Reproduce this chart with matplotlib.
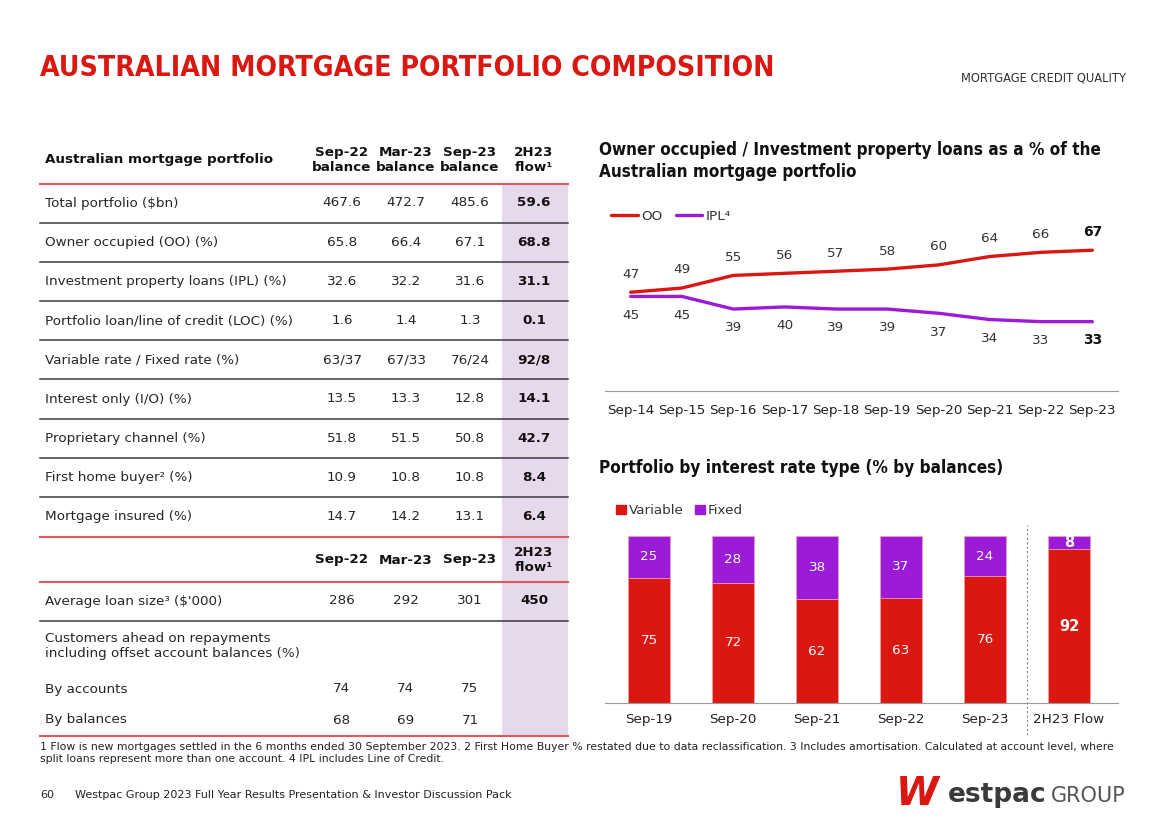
import matplotlib
matplotlib.use("Agg")
import matplotlib.pyplot as plt
from matplotlib.patches import Rectangle, Patch
from matplotlib.lines import Line2D

plt.rcParams['font.family'] = ['DejaVu Sans']
TITLE_FONT = ['DejaVu Sans']

RED = '#da1710'
PURPLE = '#9b1bd8'
TXT = '#262626'
HDR_LINE = '#e0585e'
SHADE = '#e6d9eb'

# ---- table data ----
col_heads = ['Sep-22\nbalance', 'Mar-23\nbalance', 'Sep-23\nbalance', '2H23\nflow¹']
row_labels = ['Total portfolio ($bn)', 'Owner occupied (OO) (%)',
              'Investment property loans (IPL) (%)',
              'Portfolio loan/line of credit (LOC) (%)',
              'Variable rate / Fixed rate (%)', 'Interest only (I/O) (%)',
              'Proprietary channel (%)', 'First home buyer² (%)',
              'Mortgage insured (%)']
sep22 = ['467.6', '65.8', '32.6', '1.6', '63/37', '13.5', '51.8', '10.9', '14.7']
mar23 = ['472.7', '66.4', '32.2', '1.4', '67/33', '13.3', '51.5', '10.8', '14.2']
sep23 = ['485.6', '67.1', '31.6', '1.3', '76/24', '12.8', '50.8', '10.8', '13.1']
flow = ['59.6', '68.8', '31.1', '0.1', '92/8', '14.1', '42.7', '8.4', '6.4']

col_heads2 = ['Sep-22', 'Mar-23', 'Sep-23', '2H23\nflow¹']
loan_label = 'Average loan size³ ($\'000)'
loan_vals = ['286', '292', '301', '450']
ahead_label = 'Customers ahead on repayments\nincluding offset account balances (%)'
ahead_rows = ['By accounts', 'By balances']
ahead_vals = [['74', '74', '75'], ['68', '69', '71']]

# ---- line chart data ----
years = ['Sep-14', 'Sep-15', 'Sep-16', 'Sep-17', 'Sep-18',
         'Sep-19', 'Sep-20', 'Sep-21', 'Sep-22', 'Sep-23']
oo = [47, 49, 55, 56, 57, 58, 60, 64, 66, 67]
ipl = [45, 45, 39, 40, 39, 39, 37, 34, 33, 33]

# ---- bar chart data ----
periods = ['Sep-19', 'Sep-20', 'Sep-21', 'Sep-22', 'Sep-23', '2H23 Flow']
variable = [75, 72, 62, 63, 76, 92]
fixed = [25, 28, 38, 37, 24, 8]

W, H = 1168, 825
fig = plt.figure(figsize=(W / 100, H / 100), dpi=100)
bg = fig.add_axes([0, 0, 1, 1])
bg.set_xlim(0, W)
bg.set_ylim(H, 0)
bg.axis('off')


def fit_width(t, width):
    # shrink a heading so that it spans the same width as in the slide
    r = fig.canvas.get_renderer()
    bb = t.get_window_extent(r)
    t.set_fontsize(t.get_fontsize() * width / bb.width)


# titles
title = bg.text(40, 68, 'AUSTRALIAN MORTGAGE PORTFOLIO COMPOSITION', color=RED,
                fontsize=25, fontweight='heavy', family=TITLE_FONT,
                fontstretch='condensed', va='center')
fit_width(title, 733)
bg.text(1126, 78, 'MORTGAGE CREDIT QUALITY', color='#333333', fontsize=8.3,
        ha='right', va='center')

# ---- table ----
x0, x1 = 40, 568
cols = [342, 406, 470, 534]
FS = 9.7
bg.add_patch(Rectangle((502, 184), 66, 552, color=SHADE, lw=0, zorder=0))


def hline(y, color, lw=1.2):
    bg.add_line(Line2D([x0, x1], [y, y], color=color, lw=lw))


bg.text(45, 160, 'Australian mortgage portfolio', fontsize=FS,
        fontweight='bold', color='#111111', va='center')
for cx, h in zip(cols, col_heads):
    bg.text(cx, 160, h, fontsize=FS, fontweight='bold', color='#111111',
            ha='center', va='center', linespacing=1.15)
hline(184, HDR_LINE, 1.5)

row_h = 39.2
for i, lab in enumerate(row_labels):
    y = 203 + i * row_h
    bg.text(45, y, lab, fontsize=FS, color=TXT, va='center')
    for cx, v in zip(cols[:3], (sep22[i], mar23[i], sep23[i])):
        bg.text(cx, y, v, fontsize=FS, color=TXT, ha='center', va='center')
    bg.text(cols[3], y, flow[i], fontsize=FS, fontweight='bold',
            color='#111111', ha='center', va='center')
    if i < len(row_labels) - 1:
        hline(y + row_h / 2, '#3a3a3a', 1.1)
hline(537, HDR_LINE, 1.5)

for cx, h in zip(cols, col_heads2):
    bg.text(cx, 560, h, fontsize=FS, fontweight='bold', color='#111111',
            ha='center', va='center', linespacing=1.15)
hline(582, HDR_LINE, 1.5)

bg.text(45, 601, loan_label, fontsize=FS, color=TXT, va='center')
for j, v in enumerate(loan_vals):
    bg.text(cols[j], 601, v, fontsize=FS, color='#111111' if j == 3 else TXT,
            fontweight='bold' if j == 3 else 'normal', ha='center', va='center')
hline(621, '#3a3a3a', 1.1)

bg.text(45, 646, ahead_label, fontsize=FS, color=TXT, va='center',
        linespacing=1.25)
for k, lab in enumerate(ahead_rows):
    y = 689 + k * 31
    bg.text(45, y, lab, fontsize=FS, color=TXT, va='center')
    for cx, v in zip(cols[:3], ahead_vals[k]):
        bg.text(cx, y, v, fontsize=FS, color=TXT, ha='center', va='center')
hline(736, HDR_LINE, 1.5)

# ---- line chart ----
t1 = bg.text(599, 161, 'Owner occupied / Investment property loans as a % of the\nAustralian mortgage portfolio',
             fontsize=14, fontweight='heavy', family=TITLE_FONT,
             fontstretch='condensed', color='#111111', va='center',
             linespacing=1.3)
fit_width(t1, 505)

ax1 = fig.add_axes([605 / W, (H - 391) / H, 513 / W, 166 / H])
xs = list(range(len(years)))
ax1.plot(xs, oo, color=RED, lw=2.4, solid_capstyle='round', label='OO')
ax1.plot(xs, ipl, color=PURPLE, lw=2.4, solid_capstyle='round', label='IPL⁴')
ax1.set_xlim(-0.5, len(years) - 0.5)
ax1.set_ylim(0, 79)
for i in xs:
    last = i == len(years) - 1
    kw = dict(ha='center', va='center', textcoords='offset points',
              fontsize=10 if last else 9.7,
              fontweight='bold' if last else 'normal',
              color='#111111' if last else '#333333')
    ax1.annotate(str(oo[i]), (i, oo[i]), xytext=(0, 13), **kw)
    ax1.annotate(str(ipl[i]), (i, ipl[i]), xytext=(0, -13.5), **kw)
ax1.set_xticks(xs)
ax1.set_xticklabels(years, fontsize=9.7, color='#222222')
ax1.set_yticks([])
ax1.tick_params(axis='x', length=0, pad=9)
for s in ['top', 'right', 'left']:
    ax1.spines[s].set_visible(False)
ax1.spines['bottom'].set_color('#999999')
ax1.patch.set_alpha(0)
ax1.legend(loc='center left', bbox_to_anchor=(0.012, 1.054), ncol=2,
           frameon=False, fontsize=9.7, handlelength=2.0, handletextpad=0.2,
           columnspacing=1.0, borderaxespad=0, borderpad=0, labelcolor='#333333')

# ---- bar chart ----
t2 = bg.text(599, 468, 'Portfolio by interest rate type (% by balances)', fontsize=14,
             fontweight='heavy', family=TITLE_FONT, fontstretch='condensed',
             color='#111111', va='center')
fit_width(t2, 408)

ax2 = fig.add_axes([605 / W, (H - 703) / H, 513 / W, 167 / H])
bx = list(range(len(periods)))
ax2.bar(bx, variable, width=0.5, color=RED, edgecolor='#f3a0a8', lw=0.5)
ax2.bar(bx, fixed, width=0.5, bottom=variable, color=PURPLE,
        edgecolor='#f3a0a8', lw=0.5)
ax2.set_xlim(-0.524, 5.583)
ax2.set_ylim(0, 100)
for i in bx:
    last = i == len(periods) - 1
    kw = dict(ha='center', va='center', color='white',
              fontsize=10.5 if last else 9.7,
              fontweight='bold' if last else 'normal')
    ax2.text(i, variable[i] / 2, str(variable[i]), **kw)
    ax2.text(i, variable[i] + fixed[i] / 2, str(fixed[i]), **kw)
ax2.axvline(4.5, ymin=-0.19, ymax=1.066, clip_on=False, color='#888888',
            lw=0.8, ls=(0, (2, 2)))
ax2.set_xticks(bx)
ax2.set_xticklabels(periods, fontsize=9.7, color='#222222')
ax2.set_yticks([])
ax2.tick_params(axis='x', length=0, pad=7)
for s in ['top', 'right', 'left']:
    ax2.spines[s].set_visible(False)
ax2.spines['bottom'].set_color('#999999')
ax2.patch.set_alpha(0)
ax2.legend(handles=[Patch(color=RED, label='Variable'),
                    Patch(color=PURPLE, label='Fixed')],
           loc='center left', bbox_to_anchor=(0.022, 1.15), ncol=2,
           frameon=False, fontsize=9.7, handlelength=0.7, handleheight=0.7,
           handletextpad=0.2, columnspacing=0.9, borderaxespad=0, borderpad=0,
           labelcolor='#333333')

# ---- footnotes / footer ----
bg.text(40, 753, '1 Flow is new mortgages settled in the 6 months ended 30 September 2023. '
        '2 First Home Buyer % restated due to data reclassification. 3 Includes amortisation. '
        'Calculated at account level, where\nsplit loans represent more than one account. '
        '4 IPL includes Line of Credit.', fontsize=7.85, color='#222222', va='center',
        linespacing=1.15)
bg.text(40, 795, '60', fontsize=8, color='#222222', va='center')
bg.text(75, 795, 'Westpac Group 2023 Full Year Results Presentation & Investor Discussion Pack',
        fontsize=8, color='#222222', va='center')

bg.text(896, 794, 'W', fontsize=28, fontweight='heavy', color=RED, va='center',
        style='italic')
bg.text(948, 795, 'estpac', fontsize=19, fontweight='bold', color='#3a3a3a',
        va='center')
bg.text(1051, 796, 'GROUP', fontsize=15, color='#555555', va='center')

fig.savefig('out.png', dpi=100)
